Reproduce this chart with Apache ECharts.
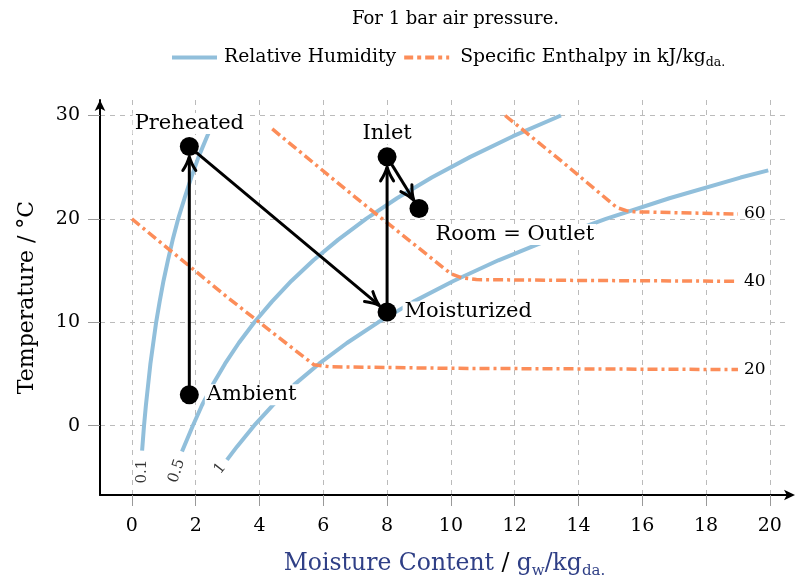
<!DOCTYPE html>
<html><head><meta charset="utf-8">
<script src="https://cdn.jsdelivr.net/npm/echarts@6/dist/echarts.min.js"></script>
<style>html,body{margin:0;padding:0;background:#fff}#c{width:799px;height:584px}</style>
</head><body><div id="c"></div>
<script>
// ---------- data ----------
const xTicks = [0, 2, 4, 6, 8, 10, 12, 14, 16, 18, 20];
const yTicks = [0, 10, 20, 30];

const rhLevels = ['0.1', '0.5', '1'];
const rh01 = [[0.32,-2.4],[0.38,0],[0.44,2],[0.51,4],[0.58,6],[0.67,8],[0.76,10],[0.87,12],[0.99,14],[1.13,16],[1.28,18],[1.45,20],[1.65,22],[1.86,24],[2.09,26],[2.36,28],[2.64,30]];
const rh05 = [[1.57,-2.5],[1.91,0],[2.2,2],[2.54,4],[2.92,6],[3.35,8],[3.84,10],[4.39,12],[5.0,14],[5.69,16],[6.47,18],[7.34,20],[8.31,22],[9.4,24],[10.61,26],[11.95,28],[13.45,30]];
const rh10 = [[2.98,-3.3],[3.3,-2],[3.83,0],[4.42,2],[5.1,4],[5.87,6],[6.74,8],[7.72,10],[8.83,12],[10.08,14],[11.49,16],[13.08,18],[14.86,20],[16.85,22],[19.08,24],[19.95,24.7]];

const enthalpyLevels = ['20', '40', '60'];
const h20 = [[0,20],[3,12.4],[5.7,5.9],[6.2,5.7],[10,5.55],[19,5.43]];
const h40 = [[4.4,28.7],[7,22.1],[10,14.7],[10.35,14.3],[10.8,14.13],[14,14.05],[19,13.97]];
const h60 = [[11.7,30],[13.5,25.5],[15.2,21.1],[15.5,20.8],[15.75,20.69],[19,20.47]];

const stateNames = ['Ambient', 'Preheated', 'Moisturized', 'Inlet', 'Room = Outlet'];
const stateX = [1.8, 1.8, 8, 8, 9];
const stateT = [3, 27, 11, 26, 21];
const processSteps = [[0, 1], [1, 2], [2, 3], [3, 4]];

// ---------- styles ----------
const FONT = 'DejaVu Serif';
const BLUE = '#91bfdb', ORANGE = '#fc8d59';
const RH_NAME = 'Relative Humidity';
const H_NAME = 'Specific Enthalpy in kJ/kg';
const RH_ICON = 'path://M0 0H45V4H0Z';
const H_ICON = 'path://M0 0H9V4H0Z M13 0H17V4H13Z M21 0H30V4H21Z M34 0H38V4H34Z M42 0H45V4H42Z';

const stateLabelStyle = [
  { position: 'right', distance: 6 },
  { position: 'top', distance: 3 },
  { position: 'right', distance: 6 },
  { position: 'top', distance: 3 },
  { position: [24, 25] }
];
// offsets are in the rotated label frame
const rhLabelStyle = [
  { rotate: 90, offset: [-21, 0] },
  { rotate: 72, offset: [-20, 1.1] },
  { rotate: 52, offset: [-11, 0] }
];

const rhCurves = [rh01, rh05, rh10];
const hCurves = [h20, h40, h60];

const chart = echarts.init(document.getElementById('c'), null, { renderer: 'canvas' });

const series = [];
rhCurves.forEach(d => series.push({
  name: RH_NAME, type: 'line', data: d, symbol: 'none', z: 2, silent: true,
  lineStyle: { color: BLUE, width: 4 }, itemStyle: { color: BLUE }
}));
hCurves.forEach((d, i) => series.push({
  name: H_NAME, type: 'line', data: d, symbol: 'none', z: 2, silent: true,
  lineStyle: { color: ORANGE, width: 3.5, type: [10, 4, 3, 4] }, itemStyle: { color: ORANGE },
  endLabel: { show: true, formatter: enthalpyLevels[i], color: '#000', fontFamily: FONT, fontSize: 17, distance: 6 }
}));
series.push({
  name: 'rhLabels', type: 'scatter', symbolSize: 0, z: 3, silent: true,
  data: rhCurves.map((d, i) => ({
    value: d[0],
    label: Object.assign({ show: true, position: 'inside', formatter: rhLevels[i], color: '#000', fontFamily: FONT, fontSize: 15 }, rhLabelStyle[i])
  }))
});
series.push({
  name: 'process', type: 'custom', z: 4, silent: true,
  data: processSteps.map(([a, b]) => [stateX[a], stateT[a], stateX[b], stateT[b]]),
  encode: { x: [0, 2], y: [1, 3] },
  renderItem(params, api) {
    const p1 = api.coord([api.value(0), api.value(1)]);
    const p2 = api.coord([api.value(2), api.value(3)]);
    const dx = p2[0] - p1[0], dy = p2[1] - p1[1];
    const L = Math.hypot(dx, dy), ux = dx / L, uy = dy / L;
    const r = 10, hl = 14, hw = 6.5;
    const tip = [p2[0] - ux * r, p2[1] - uy * r];
    const base = [tip[0] - ux * hl, tip[1] - uy * hl];
    const left = [base[0] - uy * hw, base[1] + ux * hw];
    const right = [base[0] + uy * hw, base[1] - ux * hw];
    const cl = [tip[0] - ux * hl * 0.45 - uy * hw * 0.25, tip[1] - uy * hl * 0.45 + ux * hw * 0.25];
    const cr = [tip[0] - ux * hl * 0.45 + uy * hw * 0.25, tip[1] - uy * hl * 0.45 - ux * hw * 0.25];
    return { type: 'group', children: [
      { type: 'line', shape: { x1: p1[0], y1: p1[1], x2: tip[0] - ux, y2: tip[1] - uy }, style: { stroke: '#000', lineWidth: 3 } },
      { type: 'path', shape: { pathData: `M${left[0]} ${left[1]} Q${cl[0]} ${cl[1]} ${tip[0]} ${tip[1]} Q${cr[0]} ${cr[1]} ${right[0]} ${right[1]}` },
        style: { stroke: '#000', lineWidth: 3, fill: null, lineJoin: 'round', lineCap: 'round' } }
    ] };
  }
});
series.push({
  name: 'states', type: 'scatter', symbol: 'circle', symbolSize: 19, z: 5, silent: true,
  itemStyle: { color: '#000', opacity: 1 },
  data: stateNames.map((n, i) => ({
    value: [stateX[i], stateT[i]], name: n,
    label: Object.assign({ show: true, formatter: n, color: '#000', fontFamily: FONT, fontSize: 21, backgroundColor: '#fff', padding: [0, 2] }, stateLabelStyle[i])
  }))
});

const option = {
  animation: false,
  backgroundColor: '#fff',
  title: {
    text: 'For 1 bar air pressure.', left: 352, top: 10, padding: 0,
    textStyle: { fontFamily: FONT, fontSize: 18, fontWeight: 'normal', color: '#000' }
  },
  legend: {
    data: [{ name: RH_NAME, icon: RH_ICON }, { name: H_NAME, icon: H_ICON }],
    left: 172, top: 48, padding: 0,
    itemWidth: 45, itemHeight: 14, itemGap: 8, symbolKeepAspect: true,
    formatter: n => n === H_NAME ? '{t2|' + n + '}{s|da.}' : '{t|' + n + '}',
    textStyle: {
      color: '#000', fontFamily: FONT, fontSize: 18.8,
      rich: {
        t: { fontFamily: FONT, fontSize: 18.8, lineHeight: 24, color: '#000', padding: [0, 0, 0, 2] },
        t2: { fontFamily: FONT, fontSize: 18.8, lineHeight: 24, color: '#000', padding: [0, 0, 0, 6] },
        s: { fontFamily: FONT, fontSize: 12.5, lineHeight: 12, verticalAlign: 'bottom', color: '#000' }
      }
    }
  },
  grid: { left: 100, top: 100, width: 689, height: 398, containLabel: false },
  xAxis: {
    type: 'value', min: -1, max: 20.6,
    name: '{b|Moisture Content} / {b|g}{bs|w}{b|/kg}{bs|da.}',
    nameLocation: 'middle', nameGap: 54,
    nameTextStyle: {
      color: '#000', fontFamily: FONT, fontSize: 23.5,
      rich: {
        b: { color: '#2f3f86', fontFamily: FONT, fontSize: 23.5, lineHeight: 30 },
        bs: { color: '#2f3f86', fontFamily: FONT, fontSize: 15, lineHeight: 12, verticalAlign: 'bottom' }
      }
    },
    axisLine: { show: true, onZero: false, symbol: ['none', 'arrow'], symbolSize: [8, 11], symbolOffset: [0, 6], lineStyle: { color: '#000', width: 2 } },
    axisTick: { show: true, customValues: xTicks, length: 11, lineStyle: { color: '#999', width: 1 } },
    axisLabel: { customValues: xTicks, color: '#000', fontFamily: FONT, fontSize: 19, margin: 22 },
    splitLine: { show: true, lineStyle: { color: '#bbb', width: 1, type: [5, 5] } }
  },
  yAxis: {
    type: 'value', min: -6.7, max: 31.5,
    name: 'Temperature / °C', nameLocation: 'middle', nameGap: 62, nameRotate: 90,
    nameTextStyle: { color: '#000', fontFamily: FONT, fontSize: 22 },
    axisLine: { show: true, onZero: false, symbol: ['none', 'arrow'], symbolSize: [8, 11], lineStyle: { color: '#000', width: 2 } },
    axisTick: { show: true, customValues: yTicks, length: 12, lineStyle: { color: '#999', width: 1 } },
    axisLabel: { customValues: yTicks, color: '#000', fontFamily: FONT, fontSize: 19, margin: 20 },
    splitLine: { show: true, lineStyle: { color: '#bbb', width: 1, type: [5, 5] } }
  },
  series
};
chart.setOption(option);
</script>
</body></html>
